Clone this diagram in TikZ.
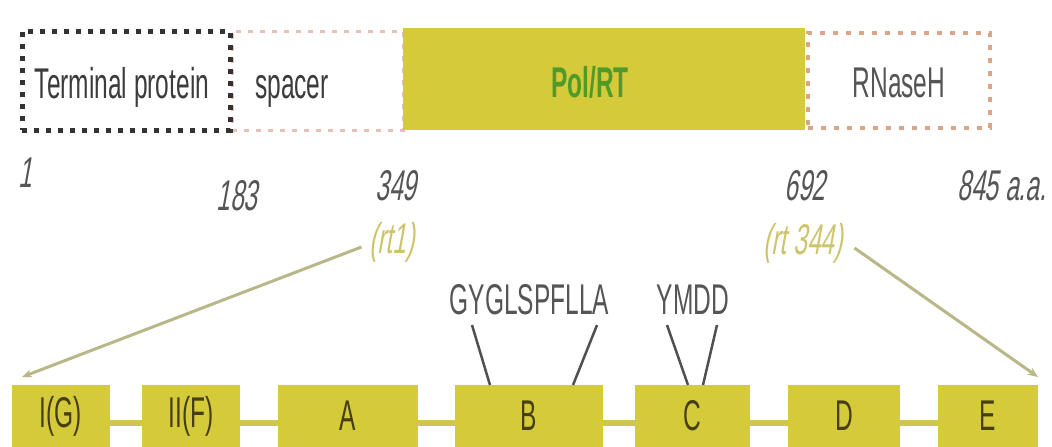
\documentclass[tikz,border=0pt]{standalone}
\usepackage{fontspec}
\setmainfont{Liberation Sans}
\newfontfamily\cf[FakeStretch=0.57]{Liberation Sans}
\newfontfamily\cfi[FakeStretch=0.57,FakeSlant=0.18]{Liberation Sans}
\usetikzlibrary{arrows.meta}
\definecolor{polfill}{RGB}{212,202,58}
\definecolor{poltext}{RGB}{80,155,40}
\definecolor{tpgray}{RGB}{60,60,60}
\definecolor{numgray}{RGB}{85,85,85}
\definecolor{rtcol}{RGB}{205,196,105}
\definecolor{domtext}{RGB}{70,62,20}
\definecolor{linkcol}{RGB}{206,198,80}
\definecolor{diagcol}{RGB}{185,183,135}
\definecolor{motcol}{RGB}{80,80,80}
\definecolor{spacercol}{RGB}{235,190,180}
\definecolor{rnasecol}{RGB}{220,165,135}
\begin{document}
\begin{tikzpicture}[x=1pt,y=-1pt,
  every node/.style={inner sep=0pt, outer sep=0pt},
  lbl/.style={font=\cf\fontsize{43}{48}\selectfont},
  num/.style={font=\cfi\fontsize{43}{48}\selectfont, text=numgray},
  segbox/.style={draw, minimum width=#1},
  dombox/.style={fill=polfill, minimum height=62pt, minimum width=#1,
    font=\cf\fontsize{43}{48}\selectfont, text=domtext},
  link/.style={draw=linkcol, line width=5.5pt},
  diag/.style={draw=diagcol, line width=3pt, -{Stealth[length=10pt,width=8pt]}},
  motline/.style={draw=motcol, line width=2.5pt}]
\useasboundingbox[fill=white] (0,0) rectangle (1052,447);

% top bar
\node[segbox=171pt, draw=spacercol, line width=3pt, dash pattern=on 5pt off 7pt,
      minimum height=99pt] (spacer) at (317.5,80.5) {};
\node[segbox=208pt, draw=black!80, line width=5pt, dash pattern=on 5pt off 7pt,
      minimum height=99pt] (tp) at (126,80.5) {};
\node[fill=polfill, minimum width=402pt, minimum height=102pt] (pol) at (604,79) {};
\node[segbox=182pt, draw=rnasecol, line width=4pt, dash pattern=on 5pt off 8pt,
      minimum height=95pt] (rnase) at (899,80.5) {};

\node[lbl, text=tpgray, anchor=base] (tptext) at (122,98) {Terminal protein};
\node[lbl, text=tpgray, anchor=base] (sptext) at (292,98) {spacer};
\node[lbl, text=poltext, anchor=base, font=\cf\bfseries\fontsize{43}{48}\selectfont] (poltxt) at (590,97) {Pol/RT};
\node[lbl, text=numgray, anchor=base] (rntext) at (899,97) {RNaseH};

% positions
\node[num, anchor=base] (n1) at (25,187) {1};
\node[num, anchor=base] (n183) at (237,210) {183};
\node[num, anchor=base] (n349) at (396,200) {349};
\node[num, anchor=base] (n692) at (805,200) {692};
\node[num, anchor=base east] (n845) at (1046,200) {845 a.a.};
\node[num, text=rtcol] (rt1) at (392,242) {(rt1)};
\node[num, text=rtcol] (rt344) at (803,243) {(rt 344)};

% domains
\node[dombox=98pt]  (b1) at (61,416)  {I(G)};
\node[dombox=98pt]  (b2) at (191,416) {II(F)};
\node[dombox=140pt] (b3) at (348,416) {A};
\node[dombox=148pt] (b4) at (529,416) {B};
\node[dombox=115pt] (b5) at (692.5,416) {C};
\node[dombox=112pt] (b6) at (844,416) {D};
\node[dombox=100pt] (b7) at (988,416) {E};

\draw[link] ([yshift=-7pt]b1.east) -- ([yshift=-7pt]b2.west);
\draw[link] ([yshift=-7pt]b2.east) -- ([yshift=-7pt]b3.west);
\draw[link] ([yshift=-7pt]b3.east) -- ([yshift=-7pt]b4.west);
\draw[link] ([yshift=-7pt]b4.east) -- ([yshift=-7pt]b5.west);
\draw[link] ([yshift=-7pt]b5.east) -- ([yshift=-7pt]b6.west);
\draw[link] ([yshift=-7pt]b6.east) -- ([yshift=-7pt]b7.west);

% motifs
\node[lbl, text=numgray] (mot1) at (529.5,300) {GYGLSPFLLA};
\node[lbl, text=numgray] (mot2) at (693,300) {YMDD};
\coordinate (m1a) at (472,325);
\coordinate (m1b) at (597,325);
\coordinate (m2a) at (667,325);
\coordinate (m2b) at (717,325);
\draw[motline] (m1a) -- ([xshift=35pt]b4.north west);
\draw[motline] (m1b) -- ([xshift=118pt]b4.north west);
\draw[motline] (m2a) -- ([xshift=53pt]b5.north west);
\draw[motline] (m2b) -- ([xshift=68pt]b5.north west);

% zoom lines
\coordinate (tipL) at (22,377);
\coordinate (tipR) at (1038,377);
\draw[diag] ([xshift=-8pt,yshift=-5pt]rt1.west) -- (tipL);
\draw[diag] ([xshift=12pt,yshift=-5pt]rt344.east) -- (tipR);
\end{tikzpicture}
\end{document}
